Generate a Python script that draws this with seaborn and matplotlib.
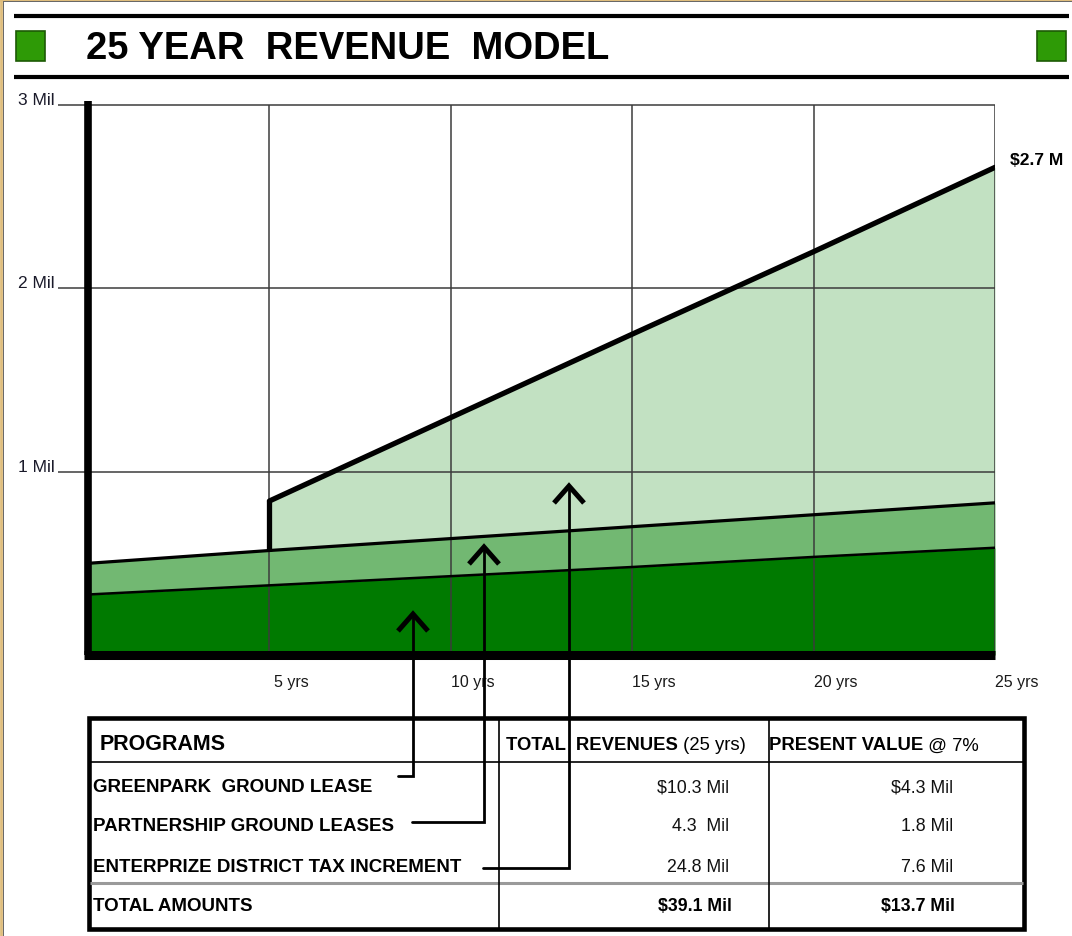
import numpy as np
import pandas as pd
import seaborn as sns
import matplotlib.pyplot as plt
from matplotlib import transforms
from matplotlib.patches import Rectangle

W, H = 1072, 937

# annual revenue by program (Mil)
years = [0, 5, 10, 15, 20, 25]
greenpark = [0.33, 0.38, 0.43, 0.48, 0.535, 0.585]
partnership = [0.17, 0.19, 0.205, 0.22, 0.23, 0.245]
enterprize = [np.nan, 0.27, 0.66, 1.05, 1.435, 1.83]

y_ticks = [1, 2, 3]
y_labels = ["1 Mil", "2 Mil", "3 Mil"]
x_ticks = [5, 10, 15, 20, 25]
x_labels = ["5 yrs", "10 yrs", "15 yrs", "20 yrs", "25 yrs"]
end_label = "$2.7 M"

# table
programs = ["GREENPARK  GROUND LEASE", "PARTNERSHIP GROUND LEASES",
            "ENTERPRIZE DISTRICT TAX INCREMENT"]
total_rev = ["$10.3 Mil", "4.3  Mil", "24.8 Mil"]
present_val = ["$4.3 Mil", "1.8 Mil", "7.6 Mil"]
total_amounts = ["$39.1 Mil", "$13.7 Mil"]

DARK = "#007a00"
MID = "#72b872"
LIGHT = "#c2e1c2"
GRID = "#3c3c3c"

df = pd.DataFrame({'year': years, 'greenpark': greenpark,
                   'partnership': partnership, 'enterprize': enterprize})
df['gp_top'] = df['greenpark']
df['pt_top'] = df['gp_top'] + df['partnership']
df['ez_top'] = df['pt_top'] + df['enterprize']
ez = df.dropna(subset=['enterprize'])

sns.set_style("white")
plt.rcParams['font.family'] = ['Liberation Sans', 'DejaVu Sans']
plt.rcParams['text.color'] = 'black'

fig = plt.figure(figsize=(W / 100, H / 100), dpi=100)
ax = fig.add_axes([88 / W, 1 - 656 / H, (995 - 88) / W, (656 - 106) / H])
ax.set_xlim(0, 25)
ax.set_ylim(0, 3)

# stacked areas
ax.fill_between(df['year'], 0, df['gp_top'], color=DARK, lw=0, zorder=1)
ax.fill_between(df['year'], df['gp_top'], df['pt_top'], color=MID, lw=0, zorder=1)
ax.fill_between(ez['year'], ez['pt_top'], ez['ez_top'], color=LIGHT, lw=0, zorder=1)

# grid
ax.hlines(y_ticks, -0.83, 25, color=GRID, lw=1.1, zorder=2, clip_on=False)
ax.vlines(x_ticks, 0, 3, color=GRID, lw=1.1, zorder=2)

# boundary lines
sns.lineplot(data=df, x='year', y='gp_top', color='black', lw=1.8, ax=ax, zorder=3)
sns.lineplot(data=df, x='year', y='pt_top', color='black', lw=2.3, ax=ax, zorder=3)
sns.lineplot(data=ez, x='year', y='ez_top', color='black', lw=3.8, ax=ax, zorder=3)
ax.vlines(ez['year'].iloc[0], ez['pt_top'].iloc[0], ez['ez_top'].iloc[0],
          color='black', lw=3.8, zorder=3)
ax.axis('off')

# heavy axis lines
ax.plot([0, 0], [0, 3.02], color='black', lw=5.5, clip_on=False, zorder=4,
        solid_capstyle='butt')
ax.plot([-0.1, 25], [0, 0], color='black', lw=6.5, clip_on=False, zorder=4,
        solid_capstyle='butt')

off_y = transforms.offset_copy(ax.transData, fig=fig, x=-33, y=1, units='dots')
for v, lab in zip(y_ticks, y_labels):
    ax.text(0, v, lab, ha='right', va='baseline', fontsize=12.5, color='#1a1a2a',
            transform=off_y)
off_x = transforms.offset_copy(ax.transData, fig=fig, x=22, y=-26, units='dots')
for v, lab in zip(x_ticks, x_labels):
    ax.text(v, 0, lab, ha='center', va='center', fontsize=11.5, color='#1a1a1a',
            transform=off_x)

ax.annotate(end_label, xy=(ez['year'].iloc[-1], ez['ez_top'].iloc[-1]),
            xytext=(15, 8), textcoords='offset pixels', ha='left', va='center',
            fontsize=12.5, weight='bold')

# overlay in pixel coordinates for title, table and connectors
ov = fig.add_axes([0, 0, 1, 1], zorder=5)
ov.set_xlim(0, W)
ov.set_ylim(H, 0)
ov.axis('off')

# page border
ov.plot([1.2, 1.2], [0, H], color='#dfbd7c', lw=2)
ov.plot([0, W], [0.8, 0.8], color='#dfbd7c', lw=2)
ov.plot([3.2, 3.2], [2.4, H], color='#666', lw=0.7)
ov.plot([3.2, W], [2.4, 2.4], color='#666', lw=0.7)

# title band
ov.hlines([16.5, 78], 14, 1069, color='black', lw=3)
for x0 in (16, 1037):
    ov.add_patch(Rectangle((x0, 32), 29, 30, fc='#2e9a06', ec='#1d5a05', lw=1.2))
ov.text(86, 49, "25 YEAR  REVENUE  MODEL", fontsize=27.5, weight='bold',
        ha='left', va='center')

# table frame
ov.add_patch(Rectangle((89, 719), 1024 - 89, 929.5 - 719, fill=False,
                       ec='black', lw=3.3, joinstyle='miter'))
ov.hlines(763, 89, 1024, color='black', lw=1.2)
ov.hlines(883.5, 90, 1023, color='#9a9a9a', lw=2.2)
ov.vlines([499, 769], 719, 929.5, color='black', lw=1.2)

ov.text(100, 745, "PROGRAMS", fontsize=15.5, weight='bold', ha='left', va='center')
t1 = ov.text(506, 746, "TOTAL  REVENUES", fontsize=13.3, weight='bold',
             ha='left', va='center')
ov.annotate(" (25 yrs)", xy=(1, 0), xycoords=t1, fontsize=13.3, ha='left',
            va='bottom')
t2 = ov.text(769, 746, "PRESENT VALUE", fontsize=13.3, weight='bold',
             ha='left', va='center')
ov.annotate(" @ 7%", xy=(1, 0), xycoords=t2, fontsize=13.3, ha='left',
            va='bottom')

row_y = [788, 827, 868]
for y, name, tr, pv in zip(row_y, programs, total_rev, present_val):
    ov.text(93, y, name, fontsize=13.5, weight='bold', ha='left', va='center')
    ov.text(729, y, tr, fontsize=12.8, ha='right', va='center', color='#111')
    ov.text(953, y, pv, fontsize=12.8, ha='right', va='center', color='#111')
ov.text(93, 907, "TOTAL AMOUNTS", fontsize=13.5, weight='bold', ha='left', va='center')
ov.text(732, 907, total_amounts[0], fontsize=12.8, weight='bold', ha='right', va='center')
ov.text(955, 907, total_amounts[1], fontsize=12.8, weight='bold', ha='right', va='center')

# connectors from table rows up into each band
starts = [(398, 777), (412, 823), (483, 869)]
tips = [(413, 615), (484, 548), (569, 487)]
for (sx, sy), (tx, ty) in zip(starts, tips):
    ov.plot([sx, tx, tx], [sy, sy, ty], color='black', lw=2,
            solid_joinstyle='miter')
    ov.plot([tx - 15, tx, tx + 15], [ty + 17, ty, ty + 17], color='black',
            lw=3.6, solid_joinstyle='miter', solid_capstyle='butt')

fig.savefig('out.png', dpi=100)
